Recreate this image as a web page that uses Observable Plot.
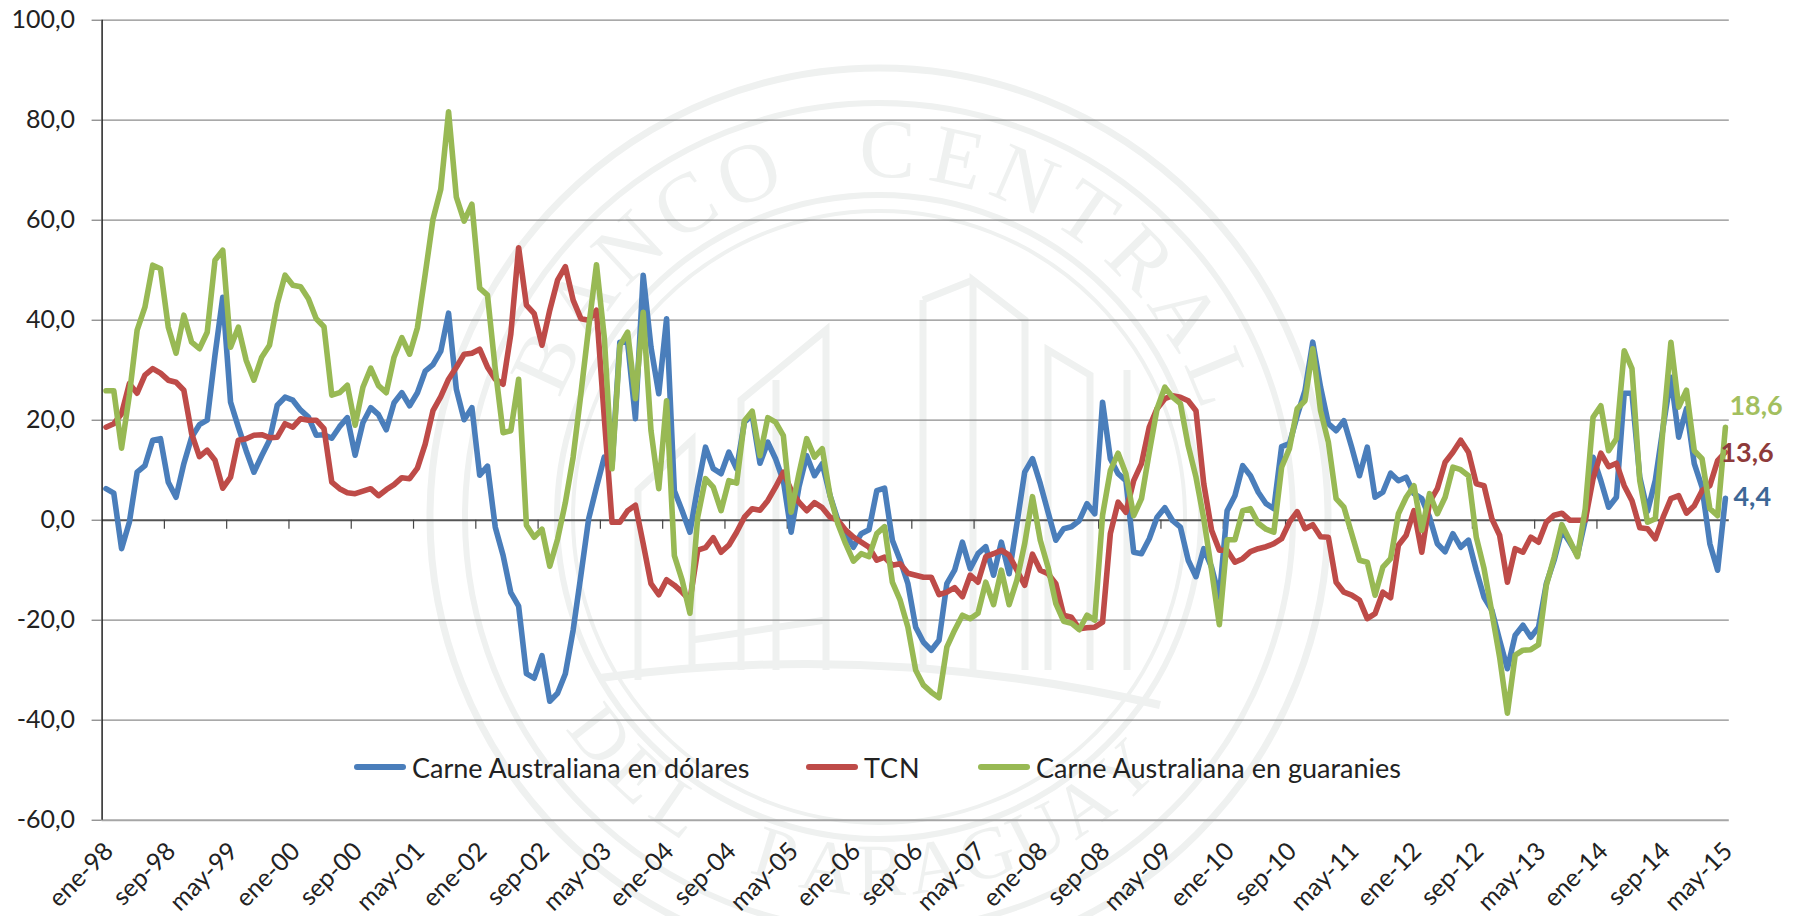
<!DOCTYPE html>
<html lang="es">
<head>
<meta charset="utf-8">
<script src="https://cdn.jsdelivr.net/npm/d3@7"></script>
<script src="https://cdn.jsdelivr.net/npm/@observablehq/plot@0.6"></script>
<style>
  html,body{margin:0;padding:0;background:#fff;width:1798px;height:916px;overflow:hidden;font-family:Lato,sans-serif;}
  #wrap{position:relative;width:1798px;height:916px;}
  #wm,#chart{position:absolute;left:0;top:0;}
  #chart svg{background:transparent;display:block;}
  .leg{position:absolute;top:749px;height:36px;display:flex;align-items:center;font-size:27px;color:#222;white-space:nowrap;}
  .leg i{display:block;height:6px;width:52px;border-radius:3px;margin-right:6px;}
</style>
</head>
<body>
<div id="wrap">
<svg id="wm" width="1798" height="916" viewBox="0 0 1798 916" fill="none" stroke="#eff1f0">
  <circle cx="879" cy="517" r="449" stroke-width="7"/>
  <circle cx="879" cy="517" r="414" stroke-width="6"/>
  <circle cx="879" cy="517" r="322" stroke-width="6"/>
  <circle cx="879" cy="517" r="306" stroke-width="4"/>
  <g stroke-width="7">
    <path d="M638 680V490L692 440V670M741 670V400L826 330V670M776 670V380M923 670V300M973 670V280L1025 320V670M1048 670V350L1090 375V670M1127 670V370"/>
    <path d="M600 678Q880 640 1160 705" stroke-width="8"/>
    <path d="M692 640L826 620M923 300L973 280"/>
  </g>
  <g id="wmText" font-family="Liberation Serif" fill="#eff1f0" stroke="none" text-anchor="middle"></g>
</svg>
<div id="chart"></div>
<div class="leg" style="left:354px"><i style="background:#4a7ebb"></i>Carne Australiana en dólares</div>
<div class="leg" style="left:806px"><i style="background:#be4b48"></i><span style="letter-spacing:1px">TCN</span></div>
<div class="leg" style="left:978px"><i style="background:#98b954"></i>Carne Australiana en guaranies</div>
</div>
<script>
const seriesNames = ["Carne Australiana en dólares", "TCN", "Carne Australiana en guaranies"];
const seriesColors = ["#4a7ebb", "#be4b48", "#98b954"];
const yTicks = [-60,-40,-20,0,20,40,60,80,100];
const xTickLabels = ["ene-98","sep-98","may-99","ene-00","sep-00","may-01","ene-02","sep-02","may-03","ene-04","sep-04","may-05","ene-06","sep-06","may-07","ene-08","sep-08","may-09","ene-10","sep-10","may-11","ene-12","sep-12","may-13","ene-14","sep-14","may-15"];
const dolares = [
6.3,5.4,-5.7,-0.4,9.6,10.9,16,16.3,7.6,4.6,
11.3,16.6,19.1,20,33,44.6,23.6,18.6,13.9,9.6,
12.9,16,23,24.6,24,22,20.6,17,17.1,16.4,
18.7,20.5,13,19.5,22.5,21.1,18.1,23.5,25.5,22.9,
25.5,29.8,31.1,33.8,41.4,26.2,20.1,22.5,9,10.8,
-1.4,-7,-14.5,-17.2,-30.7,-31.6,-27.1,-36.2,-34.6,-30.7,
-22,-11,0.3,6.6,12.6,11,35.6,35.6,20.3,49,
34.6,25.3,40.3,5.9,1.9,-2.4,6.6,14.6,10.3,9.3,
13.6,10.3,19.6,21,11.4,15.6,12.3,7.9,-2.4,6.6,
12.9,8.9,11.3,4.9,0,-2.7,-5.4,-2.7,-1.9,5.9,
6.4,-4,-8,-12.7,-21.4,-24.4,-26,-24,-12.7,-10,
-4.4,-9.7,-6.7,-5.3,-11,-4.4,-10.7,-0.7,9.6,12.3,
7.3,1.6,-4,-1.7,-1.3,-0.1,3.3,1.3,23.6,12.3,
9.3,7.9,-6.4,-6.7,-3.7,0.6,2.5,-0.1,-1.4,-8,
-11.3,-5.7,-9.4,-15.4,1.9,4.9,10.9,8.9,5.6,3.3,
2.3,14.7,15.3,20.9,25.9,35.6,26.6,19.3,17.9,19.9,
14.6,8.9,14.6,4.6,5.6,9.4,7.9,8.6,5.3,4.3,
0.6,-4.7,-6.3,-2.7,-5.4,-4,-10,-15.4,-18,-24,
-29.7,-23,-21,-23.4,-21.4,-12.7,-8,-2,-4.4,-7,
0,12.6,7.9,2.6,4.6,25.4,25.4,8.6,1.8,8,
18.6,28.6,16.6,22.3,11.3,6.6,-4.7,-10,4.4];
const tcn = [
18.6,19.3,21.3,27.3,25.4,29,30.3,29.4,28,27.6,
26,17.3,12.7,14,12,6.4,8.6,16,16.3,17,
17.1,16.5,16.6,19.3,18.6,20.3,20,20,18.3,7.6,
6.3,5.5,5.3,5.8,6.3,4.9,6.1,7.1,8.5,8.3,
10.4,15.2,21.9,24.7,28.2,30.6,33.2,33.4,34.2,30.6,
28.2,27.2,37.3,54.5,43,41.3,35,42,48,50.7,
44,40.3,40,42,20.6,-0.4,-0.4,1.9,3,-4.7,
-12.7,-14.9,-11.9,-13,-14.4,-16,-6,-5.5,-3.5,-6.4,
-5,-2.4,0.6,2.3,2,3.9,6.6,9.6,6,3.6,
1.9,3.5,2.5,0.6,0,-2,-3.4,-4.4,-5.4,-8,
-7.4,-9,-8.7,-10.6,-11,-11.4,-11.4,-14.9,-14.4,-13.5,
-15.3,-11,-12.4,-7.3,-6.7,-6,-7,-10,-13,-6.8,
-10,-10.7,-12.7,-19,-19.4,-21.7,-21.5,-21.4,-20.4,-2.7,
3.6,1.6,7.9,11.3,18.6,22.3,24.3,24.9,24.6,23.9,
21.9,7.3,-2,-6,-6,-8.4,-7.7,-6.3,-5.7,-5.3,
-4.7,-3.7,-0.4,1.7,-1.7,-0.9,-3.3,-3.4,-12.4,-14.4,
-15,-16,-19.7,-18.7,-14.4,-15.5,-5,-3,1.9,-6.4,
3.6,6.3,11.6,13.6,16,13.6,7.3,6.9,0.3,-3,
-12.4,-5.7,-6.4,-3.4,-4.4,-0.4,1,1.4,0,0,
0,8.3,13.4,10.7,11.4,6.9,3.9,-1.5,-1.7,-3.7,
0.6,4.3,4.9,1.4,2.9,5.9,6.9,11.9,13.6];
const guaranies = [
25.9,25.9,14.4,25,38,42.6,51,50.3,38.6,33.4,
41,35.6,34.3,37.6,52,54,34.6,38.6,32,28,
32.6,35,43.3,49,47,46.7,44.3,40.3,38.7,25,
25.5,27,19,26.6,30.4,26.9,25.5,32.6,36.5,33.2,
38.5,49.2,60.2,66.2,81.7,64.6,59.8,63.2,46.4,45,
30.2,17.5,17.9,28.2,-1,-3.4,-1.8,-9.2,-3.8,3.5,
12.6,25.3,38.6,51.1,36.6,10.3,34.9,37.6,24.3,41.6,
17.9,6.3,23.9,-7.1,-12,-18.6,0.6,8.3,6.6,1.9,
7.9,7.4,19.9,21.8,12.9,20.5,19.6,16.9,1.6,9.3,
16.3,12.6,14.3,4.9,-0.7,-4.7,-8.2,-6.7,-7.3,-2.7,
-1.3,-12.4,-16,-21.4,-30,-33,-34.4,-35.5,-25.4,-22,
-19,-19.7,-18.6,-12.4,-16.9,-10,-16.9,-12,-4.7,4.7,
-4,-9.4,-16.7,-20.2,-20.6,-21.9,-19,-20,1,9.9,
13.4,9.3,0.9,4.3,13.6,22.3,26.6,24.6,23.3,14.9,
8.6,0.3,-10,-20.9,-3.9,-3.9,1.9,2.3,-0.6,-1.8,
-2.4,10.6,14.3,22.3,23.9,34.3,21.9,15.6,4.3,2.6,
-2.7,-8,-8.4,-15,-9.4,-7.7,1.3,4.6,6.9,-2,
5.3,1.3,4.6,10.6,10.1,8.9,-3.4,-9.7,-18.4,-27.4,
-38.6,-27,-26,-25.9,-24.9,-13,-7.4,-0.9,-4,-7.3,
2.3,20.6,22.9,13.9,16.3,33.9,30.3,7.9,-0.4,0.3,
18.6,35.6,22.6,26,13.9,12.3,2.3,0.9,18.6];

const allSeries = [dolares, tcn, guaranies];
const tickIdx = xTickLabels.map((_, k) => k * 8);
const endLabels = [
  {i:208, v:18.6, text:"18,6", fill:"#a3bf5f", dx:4,  dy:-21},
  {i:208, v:13.6, text:"13,6", fill:"#8e3a3a", dx:-5, dy:1},
  {i:208, v:4.4,  text:"4,4",  fill:"#3d6796", dx:8,  dy:-1}
];
const fmt = d => d.toFixed(1).replace(".", ",");

// Background seal lettering, one glyph per angle step
const wmArcs = [
  {text:"BANCO CENTRAL", from:-65, to:67.6, r:340, size:84, top:true},
  {text:"DEL PARAGUAY", from:-52, to:44, r:378, size:74, top:false}
];
const wmG = d3.select("#wmText");
wmArcs.forEach(a => {
  const chars = [...a.text];
  chars.forEach((c, k) => {
    if (c === " ") return;
    const ang = a.from + (a.to - a.from) * k / (chars.length - 1);
    const rad = ang * Math.PI / 180;
    const sign = a.top ? 1 : -1;
    const px = 879 + a.r * Math.sin(rad);
    const py = 517 - sign * a.r * Math.cos(rad);
    const rot = a.top ? ang : -ang;
    wmG.append("text").attr("font-size", a.size).attr("transform", `translate(${px},${py}) rotate(${rot})`).text(c);
  });
});

const plot = Plot.plot({
  width: 1798, height: 916,
  marginLeft: 101.6, marginRight: 69.2, marginTop: 19.7, marginBottom: 96.3,
  style: {fontFamily: "Lato, sans-serif", background: "transparent", color: "#222", overflow: "visible"},
  x: {type: "linear", domain: [-0.5, 208.5], label: null},
  y: {domain: [-60, 100], label: null},
  marks: [
    Plot.ruleY(yTicks.filter(d => d !== 0 && d !== -60), {stroke: "#8c8c8c", strokeWidth: 1.2}),
    Plot.ruleY([-60], {stroke: "#a6a6a6", strokeWidth: 2}),
    Plot.ruleY([0], {stroke: "#555", strokeWidth: 2}),
    Plot.ruleX(tickIdx.slice(1, -1), {x: d => d - 0.5, y1: 0, y2: -1.8, stroke: "#444", strokeWidth: 1.2}),
    Plot.ruleX([-0.5], {stroke: "#222", strokeWidth: 1.5}),
    Plot.axisY({ticks: yTicks, tickFormat: fmt, tickSize: 10, tickPadding: 17, fontSize: 25, stroke: "#666", label: null}),
    Plot.axisX({ticks: tickIdx, tickFormat: d => xTickLabels[d / 8], tickSize: 0, tickRotate: -45, tickPadding: 27, dx: 3, fontSize: 25, label: null}),
    ...allSeries.map((vals, s) => Plot.line(vals, {
      x: (d, i) => i, y: d => d,
      stroke: seriesColors[s], strokeWidth: 5.6, strokeLinejoin: "round", strokeLinecap: "round"
    })),
    ...endLabels.map(d => Plot.text([d], {
      x: "i", y: "v", text: "text", fill: d.fill, dx: d.dx, dy: d.dy,
      textAnchor: "start", fontSize: 27, fontWeight: "bold"
    }))
  ]
});
document.getElementById("chart").appendChild(plot);
</script>
</body>
</html>
